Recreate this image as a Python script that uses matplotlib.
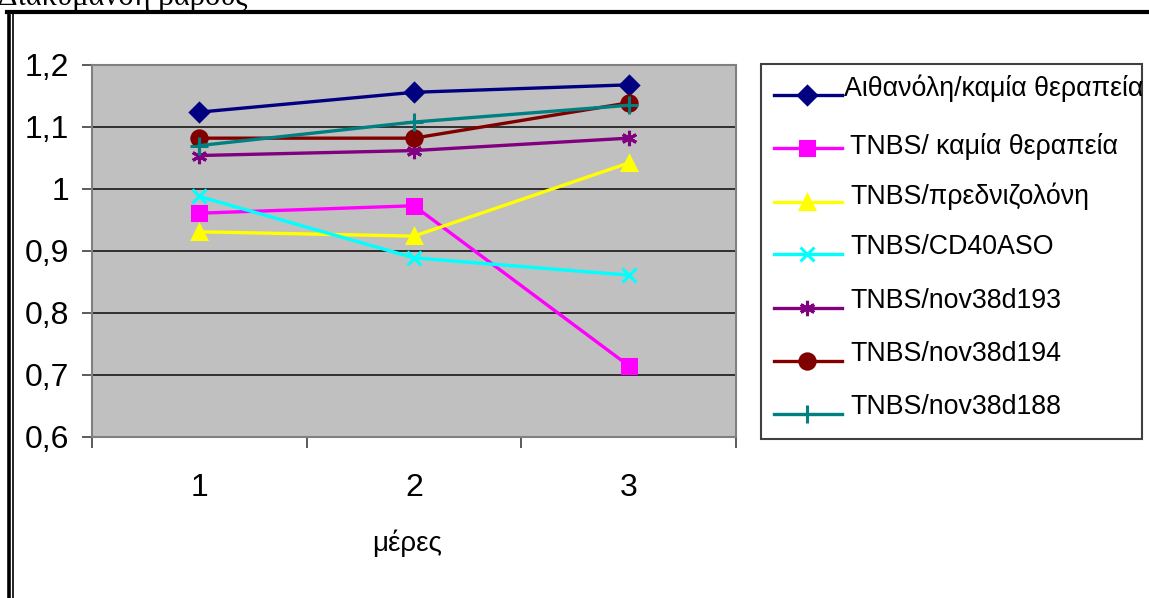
import matplotlib
matplotlib.use("Agg")
import matplotlib.pyplot as plt
from matplotlib.lines import Line2D
from matplotlib.patches import Rectangle
from matplotlib.ticker import FuncFormatter, FixedLocator

days = ["1", "2", "3"]
series_names = [
    "Αιθανόλη/καμία θεραπεία",
    "TNBS/ καμία θεραπεία",
    "TNBS/πρεδνιζολόνη",
    "TNBS/CD40ASO",
    "TNBS/nov38d193",
    "TNBS/nov38d194",
    "TNBS/nov38d188",
]
ethanol = [1.124, 1.156, 1.168]
tnbs_none = [0.961, 0.973, 0.715]
tnbs_pred = [0.931, 0.924, 1.042]
tnbs_cd40 = [0.988, 0.889, 0.861]
tnbs_d193 = [1.054, 1.062, 1.082]
tnbs_d194 = [1.082, 1.082, 1.139]
tnbs_d188 = [1.070, 1.108, 1.135]
values = [ethanol, tnbs_none, tnbs_pred, tnbs_cd40, tnbs_d193, tnbs_d194, tnbs_d188]
y_ticks = [0.6, 0.7, 0.8, 0.9, 1.0, 1.1, 1.2]

colors = ["#000080", "#FF00FF", "#FFFF00", "#00FFFF", "#800080", "#800000", "#008080"]
markers = ["D", "s", "^", "x", (6, 2, 0), "o", "+"]
msizes = [9, 10, 10, 10, 11, 11, 13]

W, H = 1149, 598
fig = plt.figure(figsize=(W / 100, H / 100), dpi=100)
fig.patch.set_facecolor("white")

def fx(px):
    return px / W

def fy(py):
    return 1 - py / H

# plot area
left, right, top, bottom = 92, 736, 65, 437
ax = fig.add_axes([fx(left), fy(bottom), fx(right - left), (bottom - top) / H])
ax.set_facecolor("#C0C0C0")
for s in ax.spines.values():
    s.set_color("#808080")
    s.set_linewidth(1.5)

x = [0, 1, 2]
for name, vals, c, m, ms in zip(series_names, values, colors, markers, msizes):
    ax.plot(x, vals, color=c, lw=2.4, marker=m, markersize=ms,
            markerfacecolor=c, markeredgecolor=c, markeredgewidth=2.2,
            label=name, clip_on=False)

ax.set_xlim(-0.5, 2.5)
ax.set_ylim(0.6, 1.2)
ax.yaxis.set_major_locator(FixedLocator(y_ticks))
ax.yaxis.set_major_formatter(FuncFormatter(lambda v, p: ("%g" % round(v, 1)).replace(".", ",")))
ax.grid(axis="y", color="#303030", lw=1.4)
ax.set_axisbelow(True)
ax.set_xticks([-0.5, 0.5, 1.5, 2.5])
ax.set_xticklabels([])
ax.set_xticks(x, minor=True)
ax.set_xticklabels(days, minor=True)
ax.tick_params(axis="x", which="major", length=8, width=1.2, color="#404040", direction="out")
ax.tick_params(axis="x", which="minor", length=0, pad=26, labelsize=23)
ax.tick_params(axis="y", length=7.5, width=1.2, color="#404040", labelsize=23, pad=9)
for lab in ax.get_xticklabels(minor=True) + ax.get_yticklabels():
    lab.set_fontfamily("Liberation Sans")

fig.text(fx(407), fy(543), "μέρες", ha="center", va="center",
         fontsize=20, family="Liberation Sans")

# legend box (drawn from the series styles)
fig.add_artist(Rectangle((fx(761), fy(439)), fx(1142 - 761), (439 - 64) / H,
                         transform=fig.transFigure, facecolor="white",
                         edgecolor="#404040", lw=1.5))
row_y = [95, 148, 202, 254, 308, 361, 414]
text_x = [844, 850, 850, 850, 850, 850, 850]
text_dy = [-7, -1, -6, -7, -7, -7, -7]
for name, c, m, ms, ry, tx, dy in zip(series_names, colors, markers, msizes, row_y, text_x, text_dy):
    fig.add_artist(Line2D([fx(774), fx(842)], [fy(ry), fy(ry)], color=c, lw=2.4,
                          transform=fig.transFigure))
    fig.add_artist(Line2D([fx(807)], [fy(ry)], color=c, marker=m, markersize=ms,
                          markerfacecolor=c, markeredgecolor=c, markeredgewidth=2.2,
                          transform=fig.transFigure))
    fig.text(fx(tx), fy(ry + dy), name, ha="left", va="center",
             fontsize=19.3, family="Liberation Sans", clip_on=False)

# outer frame
fig.add_artist(Line2D([fx(8.5), fx(8.5)], [fy(12), 0], color="black", lw=2.6, transform=fig.transFigure))
fig.add_artist(Line2D([fx(13), fx(13)], [fy(12), 0], color="black", lw=1.2, transform=fig.transFigure))
fig.add_artist(Line2D([fx(7), 1], [fy(12), fy(12)], color="black", lw=3, transform=fig.transFigure))

# cropped title (cut off at the top edge, as in the reference)
fig.text(fx(-2), fy(5), "Διακύμανση βάρους", ha="left", va="baseline",
         fontsize=22, family="Liberation Serif")

fig.savefig("out.png", dpi=100)
